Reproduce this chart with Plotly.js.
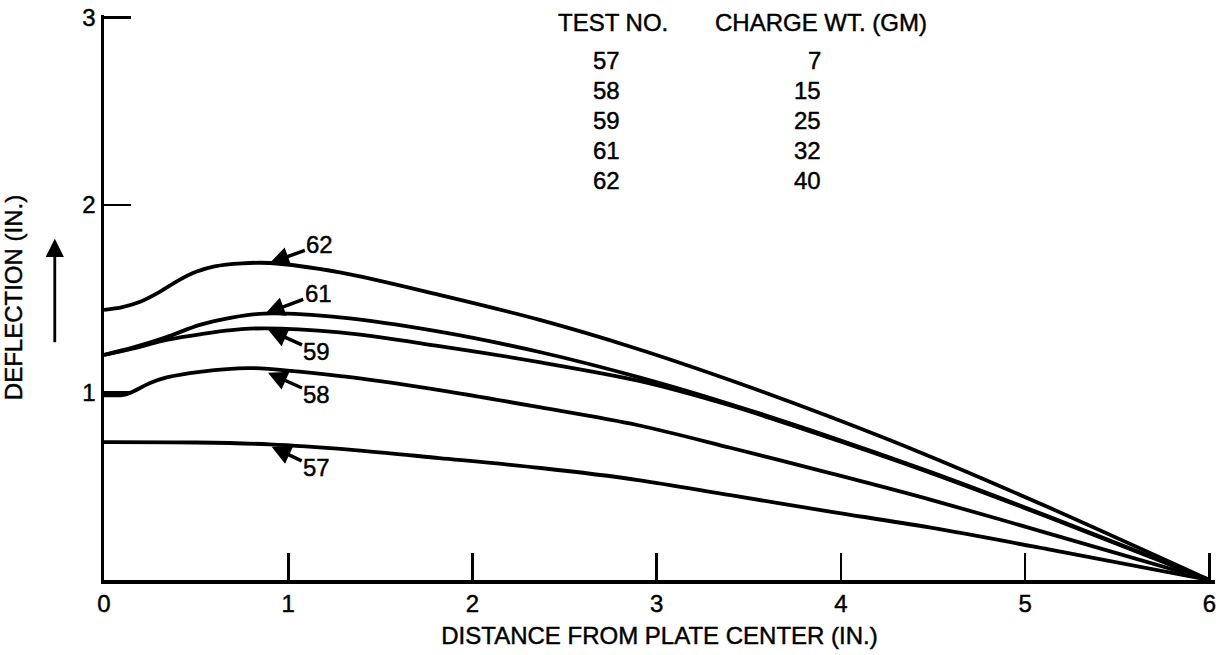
<!DOCTYPE html>
<html>
<head>
<meta charset="utf-8">
<script src="https://cdn.plot.ly/plotly-3.0.1.min.js"></script>
<style>
html,body{margin:0;padding:0;background:#fff;}
#chart{width:1219px;height:655px;}
#chart svg text{stroke:#000;stroke-width:0.45px;}
</style>
</head>
<body>
<div id="chart"></div>
<script>
// ---- data ----
const x57 = [0, 0.5, 0.9, 1.33, 1.82, 2.37, 2.9, 3.40, 3.94, 4.48, 5.12, 6];
const y57 = [0.735, 0.733, 0.723, 0.695, 0.65, 0.597, 0.533, 0.452, 0.365, 0.28, 0.165, 0];

const x58 = [0, 0.12, 0.25, 0.34, 0.52, 0.79, 1.3, 1.82, 2.37, 2.9, 3.40, 3.94, 4.48, 5.12, 6];
const y58 = [0.985, 0.99, 1.05, 1.08, 1.11, 1.13, 1.085, 1.012, 0.92, 0.825, 0.705, 0.57, 0.43, 0.25, 0];

const x59 = [0, 0.16, 0.34, 0.52, 0.79, 1.28, 1.82, 2.37, 2.91, 3.40, 3.94, 4.48, 5.12, 6];
const y59 = [1.20, 1.235, 1.28, 1.31, 1.34, 1.32, 1.247, 1.16, 1.06, 0.93, 0.757, 0.573, 0.337, 0];

const x61 = [0, 0.16, 0.34, 0.52, 0.70, 0.87, 1.28, 1.82, 2.37, 2.91, 3.40, 3.94, 4.48, 5.12, 6];
const y61 = [1.20, 1.24, 1.295, 1.36, 1.40, 1.42, 1.40, 1.324, 1.214, 1.079, 0.937, 0.764, 0.578, 0.341, 0];

const x62 = [0, 0.1, 0.2, 0.3, 0.4, 0.5, 0.6, 0.75, 0.9, 1.28, 1.82, 2.37, 2.88, 3.40, 3.94, 4.48, 5.12, 6];
const y62 = [1.44, 1.455, 1.485, 1.535, 1.595, 1.643, 1.672, 1.688, 1.69, 1.64, 1.52, 1.385, 1.237, 1.065, 0.87, 0.66, 0.39, 0];

// legend table
const testNos = ['57', '58', '59', '61', '62'];
const chargeWts = ['7', '15', '25', '32', '40'];

// curve labels and the points where their arrows touch the curves
const labelNames = ['62', '61', '59', '58', '57'];
const labelX = [0.90, 0.875, 0.89, 0.89, 0.91];
const labelY = [1.69, 1.42, 1.335, 1.105, 0.71];

const xTicks = [0, 1, 2, 3, 4, 5, 6];
const yTicks = [0, 1, 2, 3];

// ---- drawing ----
const FONT = 'Liberation Sans, Arial, Helvetica, sans-serif';
const INK = '#000';

function curve(x, y, name) {
  return {x: x, y: y, name: name, type: 'scatter', mode: 'lines',
          line: {color: INK, width: 3.8, shape: 'spline', smoothing: 0.9},
          hoverinfo: 'x+y+name'};
}
const traces = [curve(x57, y57, '57'), curve(x58, y58, '58'), curve(x59, y59, '59'),
                curve(x61, y61, '61'), curve(x62, y62, '62')];

const annotations = [];
const offs = [[50, -18], [53, -20], [49, 22], [49, 22], [45, 21]];
labelNames.forEach((n, i) => {
  annotations.push({x: labelX[i], y: labelY[i], xref: 'x', yref: 'y', text: n,
    showarrow: true, arrowhead: 2, arrowsize: 1.1, arrowwidth: 3.5, arrowcolor: INK,
    ax: offs[i][0], ay: offs[i][1], font: {family: FONT, size: 24, color: INK}});
});
annotations.push({x: 2.76, y: 2.97, xref: 'x', yref: 'y', text: 'TEST NO.', showarrow: false,
  xanchor: 'center', yanchor: 'middle', font: {family: FONT, size: 24, color: INK}});
annotations.push({x: 3.89, y: 2.97, xref: 'x', yref: 'y', text: 'CHARGE WT. (GM)', showarrow: false,
  xanchor: 'center', yanchor: 'middle', font: {family: FONT, size: 24, color: INK}});
testNos.forEach((t, i) => {
  const yy = 2.77 - i * 0.16;
  annotations.push({x: 2.73, y: yy, xref: 'x', yref: 'y', text: t, showarrow: false,
    xanchor: 'center', yanchor: 'middle', font: {family: FONT, size: 24, color: INK}});
  annotations.push({x: 3.90, y: yy, xref: 'x', yref: 'y', text: chargeWts[i], showarrow: false,
    xanchor: 'right', yanchor: 'middle', font: {family: FONT, size: 24, color: INK}});
});
annotations.push({x: -0.0443, y: 0.604, xref: 'paper', yref: 'paper', text: '',
  showarrow: true, arrowhead: 2, arrowsize: 1.3, arrowwidth: 2.8, arrowcolor: INK,
  ax: 0, ay: 105});

const layout = {
  width: 1219, height: 655,
  margin: {l: 104, r: 4, t: 15, b: 75, pad: 0},
  paper_bgcolor: '#fff', plot_bgcolor: '#fff',
  showlegend: false,
  font: {family: FONT, color: INK, size: 24},
  xaxis: {range: [0, 6.03], tickvals: xTicks, ticktext: xTicks.map(String),
          ticks: 'inside', ticklen: 27, tickwidth: 2.5, tickcolor: INK,
          showline: true, linecolor: INK, linewidth: 3.5, showgrid: false, zeroline: false,
          tickfont: {family: FONT, size: 24, color: INK},
          title: {text: 'DISTANCE FROM PLATE CENTER (IN.)', font: {family: FONT, size: 24, color: INK}, standoff: 12}},
  yaxis: {range: [0, 3.012], tickvals: yTicks, ticktext: ['', '1', '2', '3'],
          ticks: 'inside', ticklen: 27, tickwidth: 2.5, tickcolor: INK,
          showline: true, linecolor: INK, linewidth: 3.5, showgrid: false, zeroline: false,
          tickfont: {family: FONT, size: 24, color: INK},
          title: {text: 'DEFLECTION (IN.)', font: {family: FONT, size: 24, color: INK}, standoff: 54}},
  annotations: annotations
};

Plotly.newPlot('chart', traces, layout, {displayModeBar: false, staticPlot: true});
</script>
</body>
</html>
